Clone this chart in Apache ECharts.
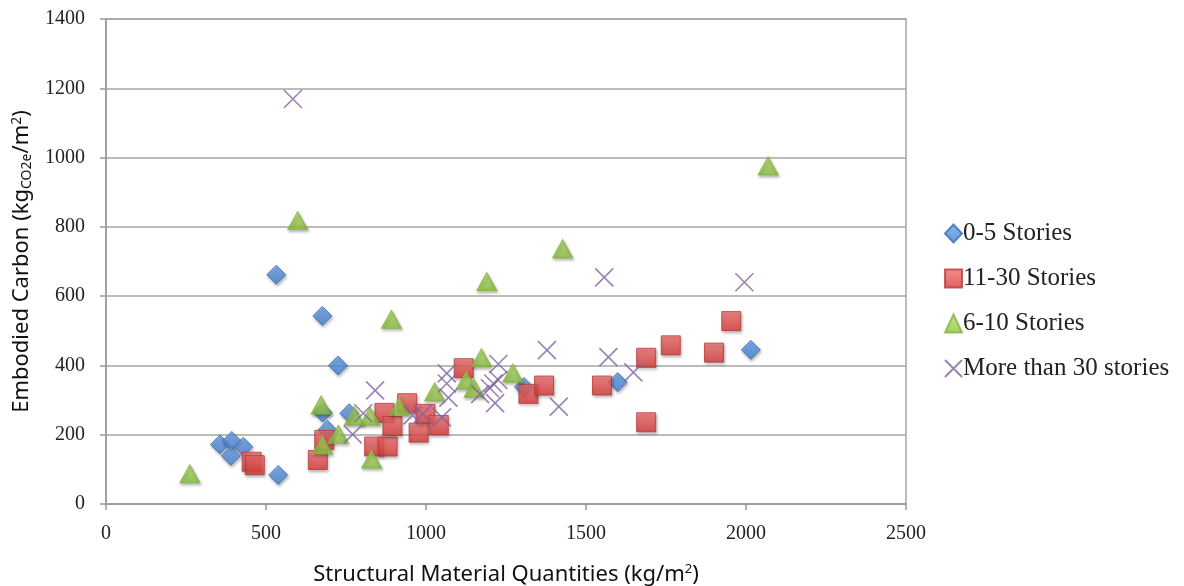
<!DOCTYPE html>
<html>
<head>
<meta charset="utf-8">
<script src="https://cdn.jsdelivr.net/npm/echarts@6/dist/echarts.min.js"></script>
<style>html,body{margin:0;padding:0;background:#fff}#c{width:1184px;height:586px}</style>
</head>
<body>
<div id="c"></div>
<script>
// Data: [material quantity kg/m2, embodied carbon kgCO2e/m2]
var seriesNames = ['0-5 Stories', '11-30 Stories', '6-10 Stories', 'More than 30 stories'];
var stories0to5 = [
  [532, 662], [676, 543], [725, 400], [677, 264], [760, 262], [692, 214],
  [356, 172], [393, 182], [429, 165], [390, 139], [538, 84],
  [1306, 338], [1599, 352], [2015, 445]
];
var stories11to30 = [
  [455, 122], [465, 112], [662, 127], [682, 185], [838, 166], [880, 166],
  [870, 263], [895, 225], [941, 291], [977, 206], [998, 260], [1040, 228],
  [1118, 392], [1320, 318], [1369, 342], [1550, 342], [1688, 422],
  [1765, 458], [1900, 437], [1954, 528], [1688, 236]
];
var stories6to10 = [
  [262, 87], [599, 818], [892, 533], [1190, 642], [1427, 737], [2069, 976],
  [672, 286], [677, 170], [726, 201], [776, 254], [825, 254], [830, 130],
  [917, 282], [1027, 324], [1126, 358], [1150, 334], [1173, 422], [1271, 378]
];
var storiesOver30 = [
  [584, 1169], [1557, 654], [1995, 640], [841, 328], [804, 262], [771, 201],
  [958, 256], [990, 260], [1050, 250], [1065, 377], [1070, 307], [1065, 348],
  [1169, 317], [1200, 334], [1210, 348], [1216, 291], [1226, 404], [1226, 358],
  [1378, 444], [1415, 281], [1570, 424], [1648, 380]
];
var xTicks = {min: 0, max: 2500, interval: 500};
var yTicks = {min: 0, max: 1400, interval: 200};

function grad(top, bottom) {
  return new echarts.graphic.LinearGradient(0, 0, 0, 1, [
    {offset: 0, color: top}, {offset: 1, color: bottom}
  ]);
}
var shadow = {shadowBlur: 3, shadowColor: 'rgba(0,0,0,0.35)', shadowOffsetX: 1, shadowOffsetY: 2};
var crossPath = 'path://M0,0L10,10M10,0L0,10';
var plain = function (v) { return String(v); };

var chart = echarts.init(document.getElementById('c'), null, {renderer: 'canvas'});
chart.setOption({
  animation: false,
  backgroundColor: '#ffffff',
  grid: {left: 106, right: 278, top: 19, bottom: 82, show: true, borderColor: '#a6a6a6', borderWidth: 1.5,
         containLabel: false, outerBoundsMode: 'none'},
  legend: {
    orient: 'vertical', left: 939, top: 216, itemGap: 20, itemWidth: 17, itemHeight: 18,
    textStyle: {fontFamily: 'Liberation Serif', fontSize: 25, lineHeight: 25, color: '#222', padding: [0, 0, 0, -4]},
    data: [
      {name: seriesNames[0], icon: 'diamond'},
      {name: seriesNames[1], icon: 'rect'},
      {name: seriesNames[2], icon: 'triangle'},
      {name: seriesNames[3], icon: crossPath}
    ]
  },
  xAxis: {
    type: 'value', min: xTicks.min, max: xTicks.max, interval: xTicks.interval,
    name: 'Structural Material Quantities (kg/m{sup|2})', nameLocation: 'middle', nameGap: 59,
    nameTextStyle: {fontFamily: 'Noto Sans', fontSize: 22, color: '#111', rich: {sup: {fontFamily: 'Noto Sans', fontSize: 13, verticalAlign: 'top', padding: [0, 0, 10, 0]}}},
    axisLine: {show: true, lineStyle: {color: '#999', width: 1.5}},
    axisTick: {show: true, length: 6, lineStyle: {color: '#999', width: 1.5}},
    axisLabel: {fontFamily: 'Liberation Serif', fontSize: 20, color: '#222', margin: 20, formatter: plain},
    splitLine: {show: false}
  },
  yAxis: {
    type: 'value', min: yTicks.min, max: yTicks.max, interval: yTicks.interval,
    name: 'Embodied Carbon (kg{sub|CO2e}/m{sup|2})', nameLocation: 'middle', nameGap: 57, nameRotate: 90,
    nameTextStyle: {
      fontFamily: 'Noto Sans', fontSize: 22, color: '#111',
      rich: {
        sub: {fontFamily: 'Noto Sans', fontSize: 14, verticalAlign: 'bottom', padding: [10, 0, 0, 0]},
        sup: {fontFamily: 'Noto Sans', fontSize: 14, verticalAlign: 'top', padding: [0, 0, 8, 0]}
      }
    },
    axisLine: {show: true, lineStyle: {color: '#999', width: 1.5}},
    axisTick: {show: true, length: 6, lineStyle: {color: '#999', width: 1.5}},
    axisLabel: {fontFamily: 'Liberation Serif', fontSize: 20, color: '#222', margin: 21, formatter: plain},
    splitLine: {show: true, lineStyle: {color: '#a6a6a6', width: 1.5}}
  },
  series: [
    {
      name: seriesNames[0], type: 'scatter', data: stories0to5, symbol: 'diamond', symbolSize: [19, 19],
      itemStyle: Object.assign({color: grad('#6aa2ea', '#4580d0'), borderColor: '#3a6db5', borderWidth: 1}, shadow)
    },
    {
      name: seriesNames[1], type: 'scatter', data: stories11to30, symbol: 'rect', symbolSize: [19, 19],
      itemStyle: Object.assign({color: grad('#f47070', '#d63838'), borderColor: '#b83a3a', borderWidth: 1}, shadow)
    },
    {
      name: seriesNames[2], type: 'scatter', data: stories6to10, symbol: 'triangle', symbolSize: [20, 18],
      itemStyle: Object.assign({color: grad('#b5dd6a', '#8cc13c'), borderColor: '#83b33d', borderWidth: 1}, shadow)
    },
    {
      name: seriesNames[3], type: 'scatter', data: storiesOver30, symbol: crossPath, symbolSize: [18, 18],
      itemStyle: {color: 'rgba(0,0,0,0)', borderColor: '#8064a2', borderWidth: 1.6}
    }
  ]
});
</script>
</body>
</html>
